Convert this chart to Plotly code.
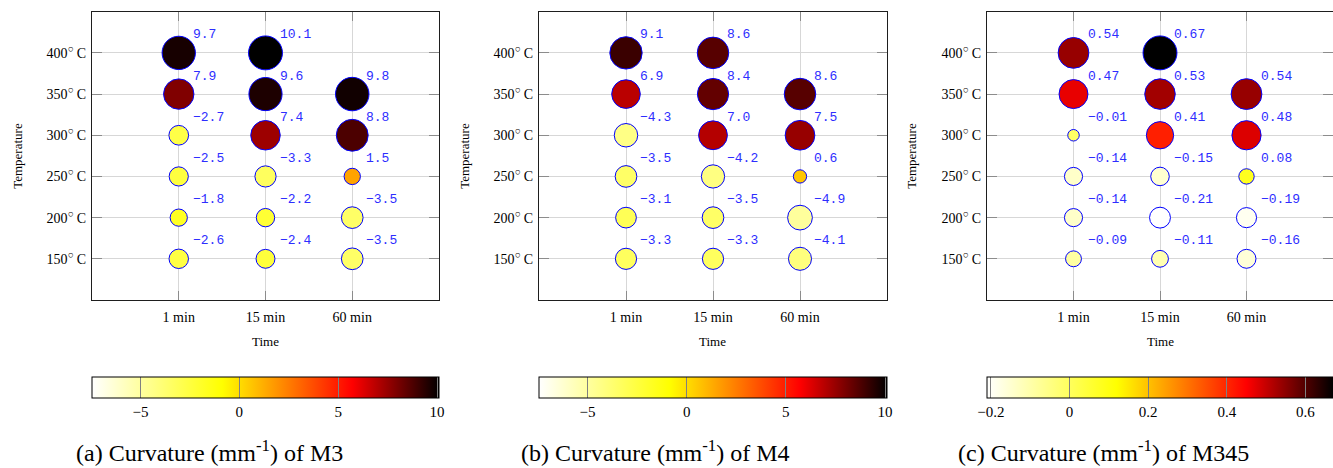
import math
import plotly.graph_objects as go

W, H = 1333, 468

times = ["1 min", "15 min", "60 min"]
temps = [150, 200, 250, 300, 350, 400]
temp_labels = [f"{t}<sup>○</sup> C" for t in temps]

# Curvature (mm^-1) per annealing time, listed from 150 °C up to 400 °C.
# None marks a combination that was not measured.
m3_1min = [-2.6, -1.8, -2.5, -2.7, 7.9, 9.7]
m3_15min = [-2.4, -2.2, -3.3, 7.4, 9.6, 10.1]
m3_60min = [-3.5, -3.5, 1.5, 8.8, 9.8, None]

m4_1min = [-3.3, -3.1, -3.5, -4.3, 6.9, 9.1]
m4_15min = [-3.3, -3.5, -4.2, 7.0, 8.4, 8.6]
m4_60min = [-4.1, -4.9, 0.6, 7.5, 8.6, None]

m345_1min = [-0.09, -0.14, -0.14, -0.01, 0.47, 0.54]
m345_15min = [-0.11, -0.21, -0.15, 0.41, 0.53, 0.67]
m345_60min = [-0.16, -0.19, 0.08, 0.48, 0.54, None]

# colour-bar limits and ticks
m34_cmin, m34_cmax = -7.45, 10.1
m345_cmin, m345_cmax = -0.21, 0.67
m34_ticks = [-5, 0, 5, 10]
m345_ticks = [-0.2, 0, 0.2, 0.4, 0.6]

captions = ["(a) Curvature (mm<sup>-1</sup>) of M3",
            "(b) Curvature (mm<sup>-1</sup>) of M4",
            "(c) Curvature (mm<sup>-1</sup>) of M345"]

# white -> yellow -> red -> black
colorscale = [[0.0, "rgb(255,255,255)"], [0.375, "rgb(255,255,0)"],
              [0.75, "rgb(255,0,0)"], [1.0, "rgb(0,0,0)"]]

panels = [
    dict(cols=[m3_1min, m3_15min, m3_60min], cmin=m34_cmin, cmax=m34_cmax,
         ticks=m34_ticks, fmt="{:.1f}", tfmt="{:g}", px=(92, 439), cap_x=209.5, ylab_x=18),
    dict(cols=[m4_1min, m4_15min, m4_60min], cmin=m34_cmin, cmax=m34_cmax,
         ticks=m34_ticks, fmt="{:.1f}", tfmt="{:g}", px=(539, 887), cap_x=655, ylab_x=465),
    dict(cols=[m345_1min, m345_15min, m345_60min], cmin=m345_cmin, cmax=m345_cmax,
         ticks=m345_ticks, fmt="{:.2f}", tfmt="{:g}", px=(987, 1333), cap_x=1103, ylab_x=912),
]

PLOT_TOP, PLOT_BOT = 11.7, 300.0
CB_TOP = 377.0

SERIF = "Liberation Serif"
MONO = "Liberation Mono"


def fy(py):
    return 1 - py / H


def fx(px):
    return px / W


def minus(s):
    return s.replace("-", "\u2212")


fig = go.Figure()
annotations = []
layout = {}

for i, p in enumerate(panels):
    n = "" if i == 0 else str(i + 1)
    xs, ys, vs = [], [], []
    for t, col in zip(times, p["cols"]):
        for temp, v in zip(temps, col):
            if v is None:
                continue
            xs.append(t)
            ys.append(temp)
            vs.append(v)
    smax = p["cmax"]
    sizes = [math.sqrt(140 + 1080 * abs(v) / smax) - 1 for v in vs]
    x0, x1 = p["px"]
    fig.add_trace(go.Scatter(
        x=xs, y=ys, mode="markers", xaxis="x" + n, yaxis="y" + n,
        marker=dict(
            size=sizes, color=vs, colorscale=colorscale, cmin=p["cmin"], cmax=p["cmax"],
            line=dict(color="rgb(0,0,255)", width=1), opacity=1,
            showscale=True,
            colorbar=dict(
                orientation="h", x=fx((x0 + x1) / 2), xanchor="center",
                y=fy(CB_TOP), yanchor="top", len=x1 - x0, lenmode="pixels",
                thickness=21, thicknessmode="pixels", xpad=0, ypad=0,
                outlinewidth=1, outlinecolor="black",
                tickmode="array", tickvals=p["ticks"],
                ticktext=[minus(p["tfmt"].format(t)) for t in p["ticks"]],
                ticks="inside", ticklen=21, tickwidth=1, tickcolor="rgb(128,128,128)",
                tickfont=dict(family=SERIF, size=15, color="black"),
            ),
        ),
        hoverinfo="skip", showlegend=False,
    ))
    for x, y, v in zip(xs, ys, vs):
        annotations.append(dict(
            x=x, y=y, xref="x" + n, yref="y" + n, text=minus(p["fmt"].format(v)),
            showarrow=False, xanchor="left", yanchor="middle", xshift=12, yshift=18,
            font=dict(family=MONO, size=13, color="rgb(45,45,255)"),
        ))
    axis_common = dict(
        showgrid=True, gridcolor="rgb(215,215,215)", gridwidth=1,
        ticks="inside", tickcolor="rgb(140,140,140)", tickwidth=1,
        showline=True, linecolor="rgb(30,30,30)", linewidth=1, mirror="ticks",
        zeroline=False, tickfont=dict(family=SERIF, size=14, color="black"),
    )
    layout["xaxis" + n] = dict(
        axis_common, domain=[fx(x0), fx(x1)], anchor="y" + n,
        type="category", categoryorder="array", categoryarray=times,
        range=[-1, 3], ticklen=9, ticklabelstandoff=4,
    )
    layout["yaxis" + n] = dict(
        axis_common, domain=[fy(PLOT_BOT), fy(PLOT_TOP)], anchor="x" + n,
        range=[100, 450], tickmode="array", tickvals=temps, ticktext=temp_labels,
        ticklen=10, ticklabelstandoff=2,
    )
    # axis titles
    annotations.append(dict(
        x=fx((x0 + x1) / 2), y=fy(341.7), xref="paper", yref="paper", text="Time",
        showarrow=False, xanchor="center", yanchor="middle",
        font=dict(family=SERIF, size=13, color="black"),
    ))
    annotations.append(dict(
        x=fx(p["ylab_x"]), y=fy((PLOT_TOP + PLOT_BOT) / 2), xref="paper", yref="paper",
        text="Temperature", textangle=-90, showarrow=False,
        xanchor="center", yanchor="middle",
        font=dict(family=SERIF, size=13, color="black"),
    ))
    # sub-figure caption
    annotations.append(dict(
        x=fx(p["cap_x"]), y=fy(451), xref="paper", yref="paper", text=captions[i],
        showarrow=False, xanchor="center", yanchor="middle",
        font=dict(family=SERIF, size=24, color="black"),
    ))

fig.update_layout(
    width=W, height=H, margin=dict(l=0, r=0, t=0, b=0),
    paper_bgcolor="white", plot_bgcolor="white", showlegend=False,
    annotations=annotations, **layout,
)

fig.write_html("out.html")
